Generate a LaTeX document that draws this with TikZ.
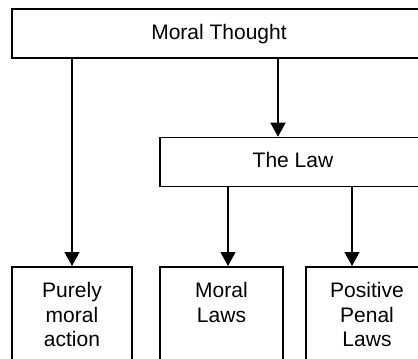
\documentclass[tikz,border=0pt]{standalone}
\usepackage{fontspec}
\setmainfont{Liberation Sans}
\usetikzlibrary{arrows.meta}
\tikzset{
  box/.style={draw,line width=1.6pt,inner sep=0pt,align=center},
  topbox/.style={box,minimum height=49pt,text height=15pt,text depth=4pt},
  leafbox/.style={box,anchor=north,text width=#1,text height=31pt,text depth=70pt},
}
\begin{document}
\begin{tikzpicture}[x=1pt,y=-1pt,font=\fontsize{21pt}{24.5pt}\selectfont]
      \clip (0,0) rectangle (418,359);
      \node[topbox,minimum width=414pt] (thought) at (219,33.5) {Moral Thought};
      \node[topbox,minimum width=266pt] (law) at (293,162) {The Law};
      \node[leafbox=120pt] (purely) at (72,266) {Purely\\moral\\action};
      \node[leafbox=123pt] (morallaws) at (221.5,266) {Moral\\Laws};
      \node[leafbox=122pt] (penal) at (367,266) {Positive\\Penal\\Laws};
      \begin{scope}[line width=1.6pt,-{Triangle[width=15pt,length=14pt]}]
        \draw (thought.south -| purely.north) to (purely.north);
        \draw ([xshift=-15pt]law.north |- thought.south) to ([xshift=-15pt]law.north);
        \draw ([xshift=6.5pt]morallaws.north |- law.south) to ([xshift=6.5pt]morallaws.north);
        \draw ([xshift=-15pt]penal.north |- law.south) to ([xshift=-15pt]penal.north);
      \end{scope}
    \end{tikzpicture}
\end{document}
